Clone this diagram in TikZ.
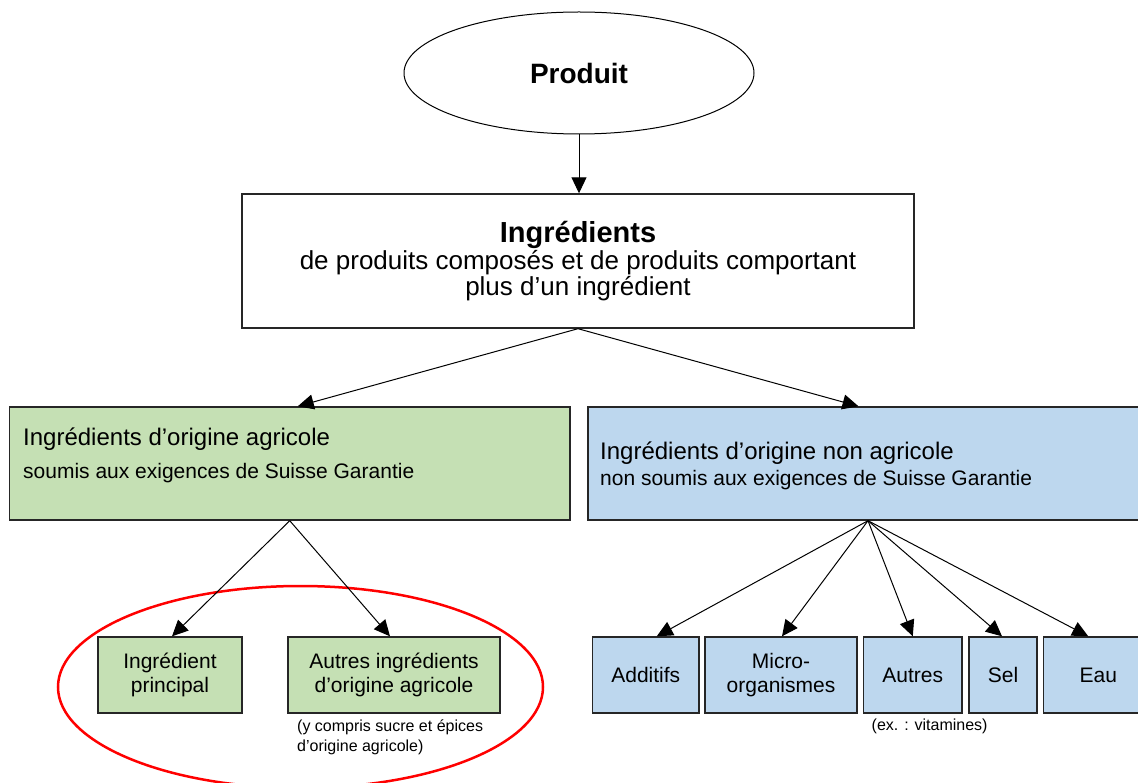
\documentclass[tikz,border=0pt]{standalone}
\usepackage{fontspec}
\setmainfont{Liberation Sans}
\usetikzlibrary{shapes.geometric,arrows.meta}
\definecolor{agrgreen}{HTML}{C5E0B4}
\definecolor{nagrblue}{HTML}{BDD7EE}
\definecolor{redring}{HTML}{FF0000}
\definecolor{edgecol}{HTML}{262626}
\begin{document}
\begin{tikzpicture}[x=1pt,y=-1pt,
  box/.style={draw=edgecol,line width=1.4pt,rectangle,inner sep=0pt,align=center},
  gbox/.style={box,fill=agrgreen},
  bbox/.style={box,fill=nagrblue},
  arr/.style={line width=1pt,-{Triangle[length=16pt,width=15pt]}},
  txt/.style={inner sep=0pt,anchor=base west},
  fbig/.style={font=\fontsize{24}{24}\selectfont},
  fmid/.style={font=\fontsize{21}{24}\selectfont},
  fsmall/.style={font=\fontsize{16}{20}\selectfont},
 ]
\useasboundingbox[fill=white] (0,0) rectangle (1138,783);

% top
\node[ellipse,draw,line width=1pt,minimum width=350pt,minimum height=122pt,inner sep=0pt,
      font=\fontsize{28}{28}\selectfont\bfseries] (prod) at (579,73) {Produit};
\node[box,fill=white,minimum width=672pt,minimum height=134pt,
      font=\fontsize{26}{26}\selectfont] (ingr) at (578,261)
  {{\fontsize{29}{29}\selectfont\bfseries Ingrédients}\\[1pt]de produits composés et de produits comportant\\plus d’un ingrédient};
\draw[arr] (prod.south) -- (prod.south |- ingr.north);

% red ring
\node[ellipse,draw=redring,line width=2.5pt,minimum width=485pt,minimum height=202pt,inner sep=0pt] (ring) at (300.5,687) {};

% middle level
\node[gbox,minimum width=560.5pt,minimum height=113pt] (agr) at (289.75,463.5) {};
\node[bbox,minimum width=556pt,minimum height=113pt] (nagr) at (866,463.5) {};
\node[txt,fbig] (agrT) at (23,446) {Ingrédients d’origine agricole};
\node[txt,fmid] (agrS) at (23,478) {soumis aux exigences de Suisse Garantie};
\node[txt,fbig] (nagrT) at (600,460) {Ingrédients d’origine non agricole};
\node[txt,fmid] (nagrS) at (600,485) {non soumis aux exigences de Suisse Garantie};
\draw[arr] (ingr.south) -- ([xshift=8pt]agr.north);
\draw[arr] (ingr.south) -- ([xshift=-7.5pt]nagr.north);

% bottom green
\node[gbox,fmid,minimum width=144pt,minimum height=76pt] (ip) at (170,675) {Ingrédient\\principal};
\node[gbox,fmid,minimum width=212.3pt,minimum height=76pt] (aia) at (394,675) {Autres ingrédients\\d’origine agricole};
\draw[arr] (agr.south) -- ([xshift=2pt]ip.north);
\draw[arr] (agr.south) -- ([xshift=-4pt]aia.north);
\node[txt,fsmall] (noteA) at (297,731) {(y compris sucre et épices};
\node[txt,fsmall] (noteB) at (297,751) {d’origine agricole)};

% bottom blue
\node[bbox,fmid,minimum width=106.5pt,minimum height=76pt] (add) at (645.75,675) {Additifs};
\node[bbox,fmid,minimum width=152pt,minimum height=76pt] (micro) at (781,675) {Micro-\\organismes};
\node[bbox,fmid,minimum width=98.4pt,minimum height=76pt] (autres) at (912.8,675) {Autres};
\node[bbox,fmid,minimum width=68pt,minimum height=76pt] (sel) at (1003,675) {Sel};
\node[bbox,fmid,minimum width=109.5pt,minimum height=76pt] (eau) at (1098.25,675) {Eau};
\coordinate (nsrc) at ([xshift=2pt]nagr.south);
\draw[arr] (nsrc) -- ([xshift=11pt]add.north);
\draw[arr] (nsrc) -- ([xshift=1pt]micro.north);
\draw[arr] (nsrc) -- (autres.north);
\draw[arr] (nsrc) -- ([xshift=-1pt]sel.north);
\draw[arr] (nsrc) -- ([xshift=-10pt]eau.north);
\node[txt,fsmall] (noteC) at (871.5,730) {(ex. : vitamines)};
\end{tikzpicture}
\end{document}
